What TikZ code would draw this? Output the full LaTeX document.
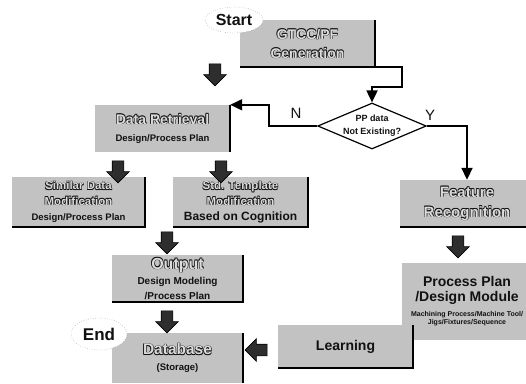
\documentclass[tikz,border=0pt]{standalone}
\usepackage{fontspec}
\setmainfont{Liberation Sans}
\usetikzlibrary{shapes.geometric,shapes.arrows,arrows.meta}

\definecolor{boxgray}{HTML}{C2C2C2}
\definecolor{ink}{HTML}{111111}
\definecolor{hilite}{HTML}{DCDCDC}

% light lettering with a dark rim
\newcommand\embossed[1]{\leavevmode
  \rlap{\kern-.55pt\raisebox{.55pt}{\textcolor{ink}{#1}}}%
  \rlap{\kern.55pt\raisebox{-.55pt}{\textcolor{ink}{#1}}}%
  \rlap{\kern.55pt\raisebox{.55pt}{\textcolor{ink}{#1}}}%
  \rlap{\kern-.55pt\raisebox{-.55pt}{\textcolor{ink}{#1}}}%
  \textcolor{hilite}{#1}}
\newcommand\fs[2]{\fontsize{#1}{#2}\selectfont}

\begin{document}
\begin{tikzpicture}[x=1pt,y=-1pt,
  box/.style={rectangle, fill=boxgray, inner sep=0pt, align=center,
    font=\bfseries, text=ink},
  edge/.style={draw=black, line width=1.6pt},
  flow/.style={draw=black, line width=1.8pt,
    -{Triangle[length=12pt,width=11pt]}},
  fat/.style={single arrow, draw=black, fill=black!82, line width=0.6pt,
    inner sep=5.5pt, single arrow head extend=5.5pt, minimum height=22pt},
  term/.style={ellipse, draw=black!55, dotted, fill=white, inner sep=0pt,
    font=\bfseries, text=ink},
  lab/.style={font=\fs{15}{17}, text=ink, inner sep=0pt}]

\useasboundingbox (0,0) rectangle (526,383);

% --- boxes ---
\node[box, minimum width=135pt, minimum height=47pt, font=\bfseries\fs{14}{19}]
  (gtcc) at (307.5,43.5) {\embossed{GTCC/PF}\\\embossed{Generation}};
\node[term, minimum width=58pt, minimum height=26pt, font=\bfseries\fs{16}{18}]
  (start) at (234,20) {Start};

\node[diamond, draw=black, line width=1.2pt, fill=white, inner sep=0pt,
  aspect=2.36, minimum width=104pt, minimum height=44pt, align=center,
  font=\bfseries\fs{9}{13}, text=ink] (dec) at (372,126) {PP data\\Not Existing?};

\node[box, minimum width=135pt, minimum height=47pt, font=\bfseries\fs{14}{17}]
  (dr) at (162.5,128.5) {\embossed{Data Retrieval}\\{\fs{9.5}{17}Design/Process Plan}};

\node[box, minimum width=133pt, minimum height=50pt, font=\bfseries\fs{11.5}{15.5}]
  (sim) at (78.5,202) {\embossed{Similar Data}\\\embossed{Modification}\\{\fs{9.5}{15.5}Design/Process Plan}};

\node[box, minimum width=135pt, minimum height=50pt, font=\bfseries\fs{11.5}{15.5}]
  (std) at (240.5,202) {\embossed{Std. Template}\\\embossed{Modification}\\{\fs{12}{15.5}Based on Cognition}};

\node[box, minimum width=131pt, minimum height=47pt, font=\bfseries\fs{16}{15}]
  (out) at (177.5,278.5) {\embossed{Output}\\{\fs{10}{15}Design Modeling}\\{\fs{10}{15}/Process Plan}};

\node[box, minimum width=131pt, minimum height=50pt, font=\bfseries\fs{15.5}{16}]
  (db) at (177.5,358) {\embossed{Database}\\{\fs{9.5}{16}(Storage)}};
\node[term, minimum width=56pt, minimum height=32pt, font=\bfseries\fs{17}{19}]
  (end) at (99,334) {End};

\node[box, minimum width=134pt, minimum height=47pt, font=\bfseries\fs{15}{20}]
  (feat) at (467,203.5) {\embossed{Feature}\\\embossed{Recognition}};

\node[box, minimum width=130pt, minimum height=77pt, font=\bfseries\fs{14}{15}]
  (pp) at (467,301.5) {Process Plan\\/Design Module\\{\fs{7}{15}Machining Process/Machine Tool/}\\[-7pt]{\fs{7}{15}Jigs/Fixtures/Sequence}};

\node[box, minimum width=135pt, minimum height=43pt, font=\bfseries\fs{14}{16}]
  (learn) at (345.5,346.5) {Learning};

% --- shaded box edges ---
\draw[edge] (gtcc.north east) -- (gtcc.south east) -- (gtcc.south west);
\draw[edge] (dr.north east) -- (dr.south east);
\draw[edge] (sim.north east) -- (sim.south east) -- (sim.south west);
\draw[edge] (std.north east) -- (std.south east) -- (std.south west);
\draw[edge] (out.north east) -- (out.south east) -- (out.south west);
\draw[edge] (db.north east) -- (db.south east);
\draw[edge] (feat.south east) -- (feat.south west);
\draw[edge] (learn.north east) -- (learn.south east) -- (learn.south west);

% --- connectors ---
\draw[flow] (gtcc.south east) -- ++(27,0) -- ++(0,20) -| (dec.north);
\draw[flow] (dec.west) -- ++(-48,0) |- (dr.north east);
\draw[flow] (dec.east) -| (feat.north);
\node[lab] (nlab) at (296,113) {N};
\node[lab] (ylab) at (430,115) {Y};

% --- block arrows ---
\node[fat, shape border rotate=225] (fa0) at (215,72) {};
\node[fat, shape border rotate=270] (fa1) at (118,169) {};
\node[fat, shape border rotate=270] (fa2) at (221,169) {};
\node[fat, shape border rotate=270] (fa3) at (167,240) {};
\node[fat, shape border rotate=270] (fa4) at (167,319) {};
\node[fat, shape border rotate=270] (fa5) at (458,244) {};
\node[fat, shape border rotate=180] (fa6) at (259,350) {};
\end{tikzpicture}
\end{document}
